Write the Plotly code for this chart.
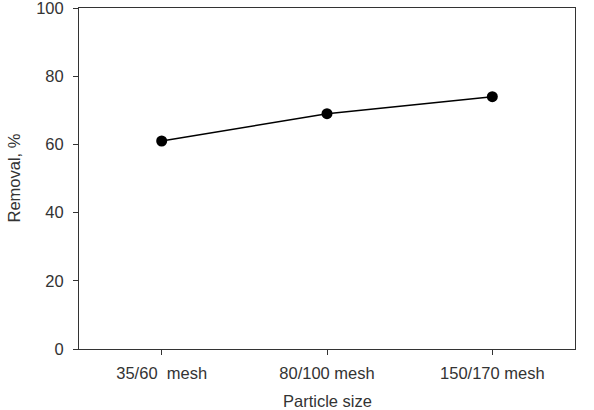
import plotly.graph_objects as go

categories = ["35/60  mesh", "80/100 mesh", "150/170 mesh"]
removal = [61, 69, 74]
y_ticks = [0, 20, 40, 60, 80, 100]

FONT = "Liberation Sans, Arial, sans-serif"

fig = go.Figure()
fig.add_trace(go.Scatter(
    x=list(range(len(categories))), y=removal,
    mode="lines+markers",
    line=dict(color="black", width=1.5),
    marker=dict(color="black", size=11),
    showlegend=False,
))

axis_common = dict(
    showline=True, linecolor="#333333", linewidth=1,
    mirror=True, ticks="outside", ticklen=5, tickcolor="#333333",
    showgrid=False, zeroline=False, automargin=False,
    ticklabeloverflow="allow",
    tickfont=dict(family=FONT, size=16.5, color="#333333"),
)

fig.update_xaxes(
    range=[-0.5, 2.5],
    tickvals=list(range(len(categories))), ticktext=categories,
    ticklabelstandoff=4,
    **axis_common,
)
fig.update_yaxes(
    range=[0, 100], tickvals=y_ticks,
    ticklabelstandoff=6,
    **axis_common,
)

fig.add_annotation(
    text="Removal, %", xref="paper", yref="paper",
    x=-0.133, y=0.5, xanchor="center", yanchor="middle", textangle=-90,
    showarrow=False, font=dict(family=FONT, size=16.5, color="#333333"),
)
fig.add_annotation(
    text="Particle size", xref="paper", yref="paper",
    x=0.5, y=-0.152, xanchor="center", yanchor="middle",
    showarrow=False, font=dict(family=FONT, size=16.5, color="#333333"),
)

fig.update_layout(
    width=594, height=410,
    margin=dict(l=79, r=19, t=8, b=61),
    plot_bgcolor="white", paper_bgcolor="white",
)

fig.write_html("out.html")
